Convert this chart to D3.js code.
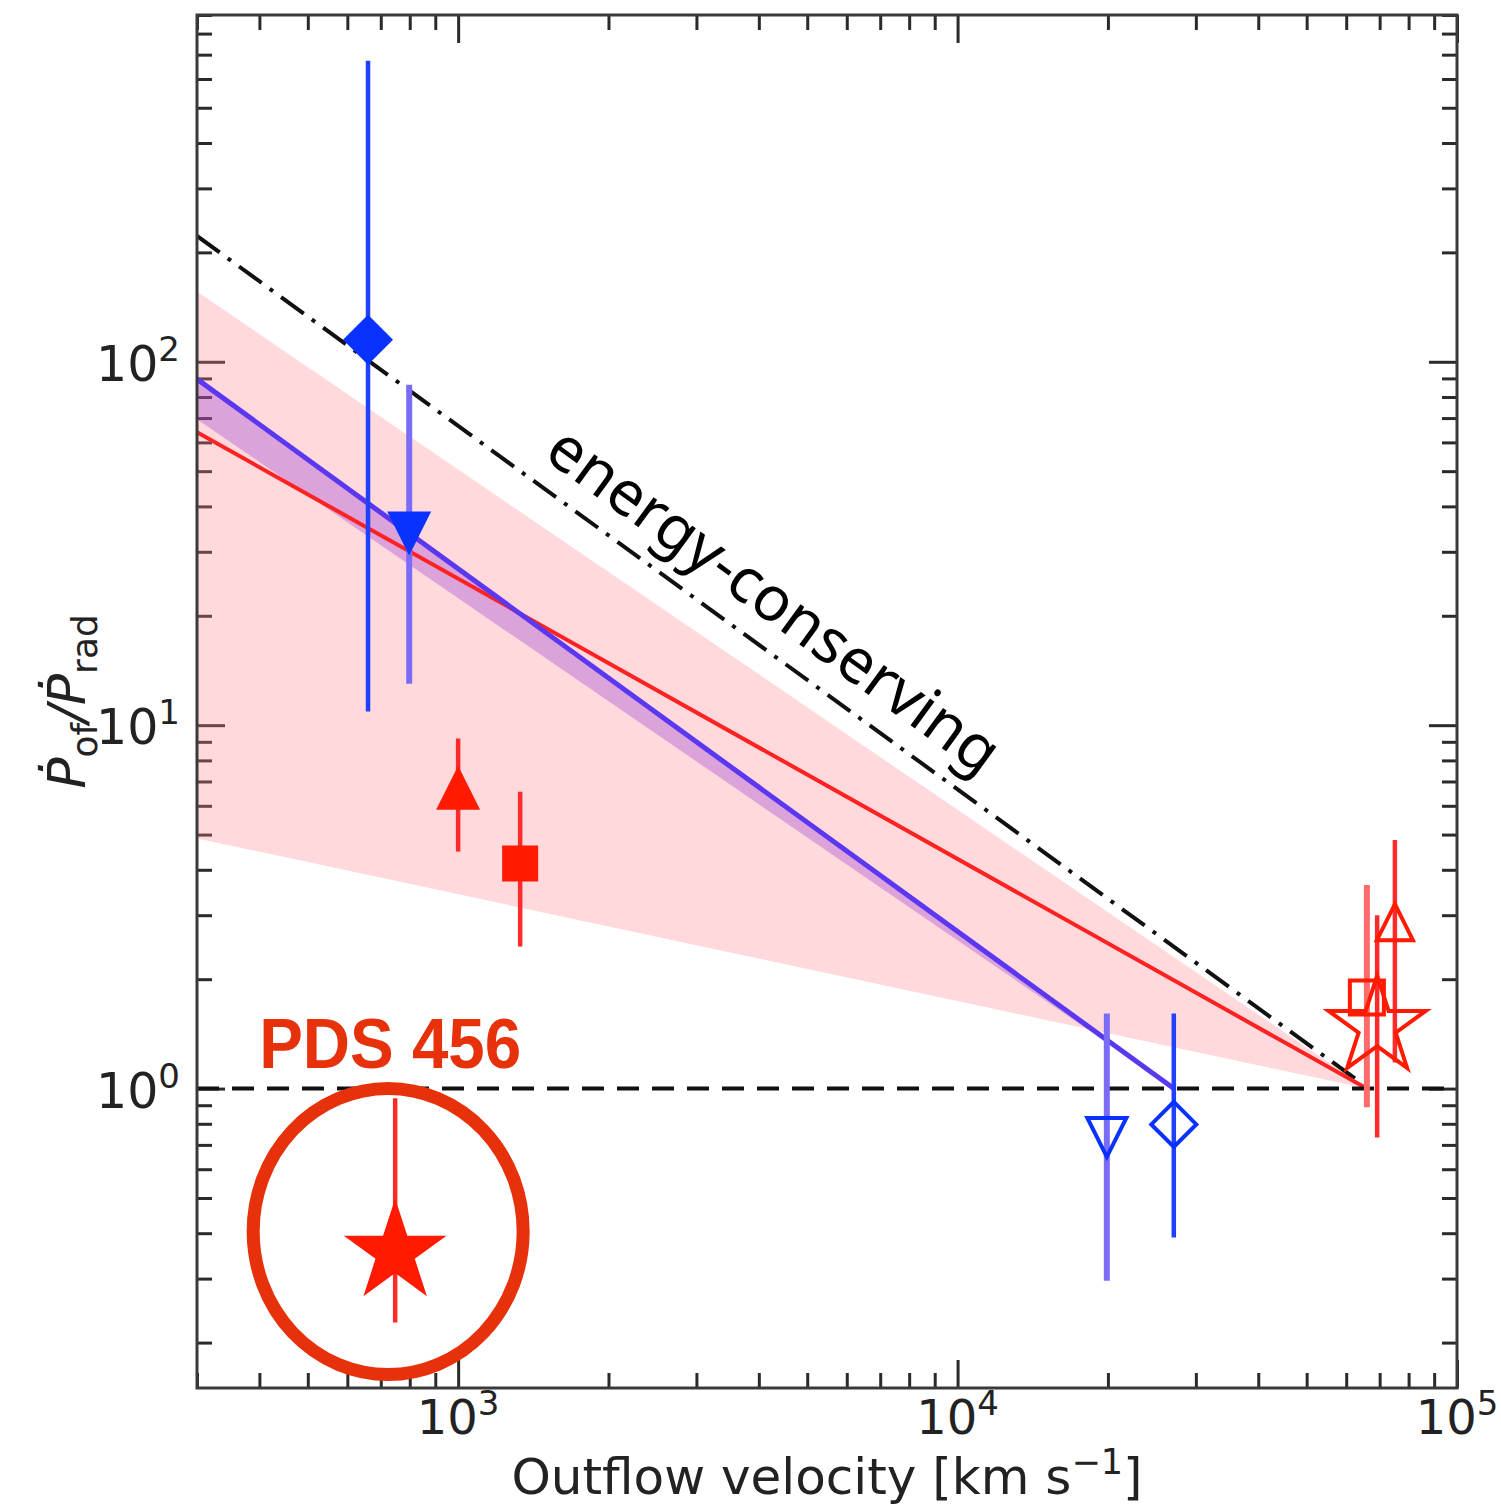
<!DOCTYPE html>
<html>
<head>
<meta charset="utf-8">
<script src="https://cdn.jsdelivr.net/npm/d3@7"></script>
<style>
  body { margin: 0; background: #fff; }
  svg { display: block; }
</style>
</head>
<body>
<svg id="chart" width="1501" height="1506"></svg>
<script>
// ---- values ----
// outflow velocity [km/s], Pdot_of/Pdot_rad and its error range
const velocity = [660, 798, 1000, 1331, 748, 19900, 27100, 66000, 69200, 75100];
const pRatio   = [115, 33.7, 6.73, 4.16, 0.354, 0.734, 0.797, 1.78, 1.48, 2.87];
const errLow   = [10.9, 13.0, 4.49, 2.46, 0.227, 0.296, 0.389, 0.888, 0.734, 1.18];
const errHigh  = [673, 86.5, 9.19, 6.56, 0.94, 1.61, 1.61, 3.63, 3.0, 4.83];
const shape    = ["diamond", "tri-down", "tri-up", "square", "star", "tri-down", "diamond", "square", "star", "tri-up"];
const filled   = [true, true, true, true, true, false, false, false, false, false];
const group    = ["blue", "blue", "red", "red", "red", "blue", "blue", "red", "red", "red"];

// relations (end points, v vs ratio)
const energyV  = [300, 63000], energyP = [222, 1.057];
const redFitV  = [300, 66000], redFitP = [64, 1.0];
const redBandHi = [156, 1.0], redBandLo = [4.88, 1.0];
const blueFitV = [300, 27100], blueFitP = [89.6, 1.0];
const blueBandLo = [69.5, 1.0];

const xMajor = [1e3, 1e4, 1e5];
const yMajor = [1, 10, 100];
const highlight = 4; // PDS 456

// ---- styles ----
const markerR = [25, 22, 22, 18, 54, 19.5, 22.5, 17, 51, 18];
const barLight = [false, true, false, false, false, true, false, true, false, false];
const col = {
  blue: "#0a32ff", blueBar: "#1f40ff", blueLight: "#7a6cf8",
  red: "#ff1a00", redBar: "#ff2b2b", redLight: "#ff6b6b",
  note: "#e6310a", blueLine: "#5b38f0", redLine: "#ff2222"
};

const svg = d3.select("#chart");
const pLeft = 197, pRight = 1457, pTop = 15, pBottom = 1388;
const x = d3.scaleLog().domain([300, 1e5]).range([pLeft, pRight]);
const y = d3.scaleLog().domain([0.15, 900]).range([pBottom, pTop]);

svg.append("defs").append("clipPath").attr("id", "plot")
  .append("rect").attr("x", pLeft).attr("y", pTop)
  .attr("width", pRight - pLeft).attr("height", pBottom - pTop);

// ---- ticks (inward, all four sides) ----
const xMinor = [], yMinor = [];
[100, 1000, 10000].forEach(d => { for (let k = 2; k <= 9; k++) if (d * k >= 300) xMinor.push(d * k); });
[0.1, 1, 10, 100].forEach(d => { for (let k = 2; k <= 9; k++) if (d * k >= 0.15 && d * k <= 900) yMinor.push(d * k); });

function tickAxis(gen, tx, ty, vals, len) {
  const g = svg.append("g").attr("transform", `translate(${tx},${ty})`)
    .call(gen.tickValues(vals).tickSize(len).tickFormat(""));
  g.select(".domain").remove();
  g.selectAll("line").attr("stroke", "#2a2a2a").attr("stroke-width", 3);
}
tickAxis(d3.axisBottom(x), 0, pBottom, xMinor, -15);
tickAxis(d3.axisBottom(x), 0, pBottom, xMajor, -28);
tickAxis(d3.axisTop(x), 0, pTop, xMinor, -15);
tickAxis(d3.axisTop(x), 0, pTop, xMajor, -28);
tickAxis(d3.axisLeft(y), pLeft, 0, yMinor, -15);
tickAxis(d3.axisLeft(y), pLeft, 0, yMajor, -28);
tickAxis(d3.axisRight(y), pRight, 0, yMinor, -15);
tickAxis(d3.axisRight(y), pRight, 0, yMajor, -28);

// ---- bands and fit lines ----
const plot = svg.append("g").attr("clip-path", "url(#plot)");

const redBand = redFitV.map((v, i) => ({ v, hi: redBandHi[i], lo: redBandLo[i] }));
plot.append("path").datum(redBand)
  .attr("d", d3.area().x(d => x(d.v)).y0(d => y(d.lo)).y1(d => y(d.hi)))
  .attr("fill", "rgb(255,128,138)").attr("fill-opacity", 0.3);

const blueBand = blueFitV.map((v, i) => ({ v, hi: blueFitP[i], lo: blueBandLo[i] }));
plot.append("path").datum(blueBand)
  .attr("d", d3.area().x(d => x(d.v)).y0(d => y(d.lo)).y1(d => y(d.hi)))
  .attr("fill", "rgb(140,40,220)").attr("fill-opacity", 0.3);

const line = d3.line().x(d => x(d[0])).y(d => y(d[1]));

plot.append("path").datum(d3.zip(energyV, energyP)).attr("d", line)
  .attr("fill", "none").attr("stroke", "#111").attr("stroke-width", 4)
  .attr("stroke-dasharray", "28,10,4,10");

plot.append("path").datum(d3.zip(redFitV, redFitP)).attr("d", line)
  .attr("fill", "none").attr("stroke", col.redLine).attr("stroke-width", 4);

plot.append("path").datum(d3.zip(blueFitV, blueFitP)).attr("d", line)
  .attr("fill", "none").attr("stroke", col.blueLine).attr("stroke-width", 5);

// ratio = 1
plot.append("line")
  .attr("x1", pLeft).attr("x2", pRight).attr("y1", y(1)).attr("y2", y(1))
  .attr("stroke", "#111").attr("stroke-width", 4).attr("stroke-dasharray", "22,13");

// ---- error bars and markers ----
const pts = velocity.map((v, i) => ({
  i, v, p: pRatio[i], lo: errLow[i], hi: errHigh[i],
  shape: shape[i], filled: filled[i], group: group[i]
}));

function barColor(d) {
  if (d.group === "blue") return barLight[d.i] ? col.blueLight : col.blueBar;
  return barLight[d.i] ? col.redLight : col.redBar;
}

svg.append("g").selectAll("line").data(pts).join("line")
  .attr("x1", d => x(d.v)).attr("x2", d => x(d.v))
  .attr("y1", d => y(d.lo)).attr("y2", d => y(d.hi))
  .attr("stroke", barColor)
  .attr("stroke-width", d => barLight[d.i] ? 6 : 4.5);

// matplotlib-like marker outlines
const mpl = {
  "diamond": { draw(c, s) { const r = Math.sqrt(s) / 2; c.moveTo(0, -r); c.lineTo(r, 0); c.lineTo(0, r); c.lineTo(-r, 0); c.closePath(); } },
  "tri-up": { draw(c, s) { const r = Math.sqrt(s) / 2; c.moveTo(0, -r); c.lineTo(r, r); c.lineTo(-r, r); c.closePath(); } },
  "tri-down": { draw(c, s) { const r = Math.sqrt(s) / 2; c.moveTo(0, r); c.lineTo(r, -r); c.lineTo(-r, -r); c.closePath(); } },
  "square": { draw(c, s) { const r = Math.sqrt(s) / 2; c.rect(-r, -r, 2 * r, 2 * r); } },
  "star": d3.symbolStar
};
function symSize(d) {
  const r = markerR[d.i];
  return d.shape === "star" ? r * r / 0.8908130915292852 : 4 * r * r;
}

svg.append("g").selectAll("path").data(pts).join("path")
  .attr("transform", d => `translate(${x(d.v)},${y(d.p)})`)
  .attr("d", d => d3.symbol().type(mpl[d.shape]).size(symSize(d))())
  .attr("fill", d => d.filled ? col[d.group] : "none")
  .attr("stroke", d => d.filled ? "none" : col[d.group])
  .attr("stroke-width", d => d.filled ? 0 : 4);

// ---- frame ----
svg.append("rect").attr("x", pLeft).attr("y", pTop)
  .attr("width", pRight - pLeft).attr("height", pBottom - pTop)
  .attr("fill", "none").attr("stroke", "#3a3a3a").attr("stroke-width", 3);

// ---- tick labels ----
const font = "'DejaVu Sans', sans-serif";
svg.append("g").selectAll("text").data(xMajor).join("text")
  .attr("x", d => x(d)).attr("y", 1434)
  .attr("text-anchor", "middle").attr("font-family", font).attr("font-size", 48).attr("fill", "#222")
  .each(function (d) {
    const t = d3.select(this);
    t.append("tspan").text("10");
    t.append("tspan").attr("dy", -19).attr("font-size", 34).text(Math.round(Math.log10(d)));
  });

svg.append("g").selectAll("text").data(yMajor).join("text")
  .attr("x", 180).attr("y", d => y(d) + 19)
  .attr("text-anchor", "end").attr("font-family", font).attr("font-size", 49).attr("fill", "#222")
  .each(function (d) {
    const t = d3.select(this);
    t.append("tspan").text("10");
    t.append("tspan").attr("dy", -20).attr("font-size", 34).text(Math.round(Math.log10(d)));
  });

// ---- axis titles ----
const xl = svg.append("text")
  .attr("x", (pLeft + pRight) / 2).attr("y", 1494)
  .attr("text-anchor", "middle").attr("font-family", font).attr("font-size", 50).attr("fill", "#222");
xl.append("tspan").text("Outflow velocity [km s");
xl.append("tspan").attr("dy", -20).attr("font-size", 35).text("\u22121");
xl.append("tspan").attr("dy", 20).text("]");

const yl = svg.append("text")
  .attr("transform", `translate(85,${(pTop + pBottom) / 2}) rotate(-90)`)
  .attr("text-anchor", "middle").attr("font-family", font).attr("font-size", 52).attr("fill", "#222");
yl.append("tspan").attr("font-style", "italic").text("\u1E56");
yl.append("tspan").attr("dy", 12).attr("font-size", 36).text("of");
yl.append("tspan").attr("dy", -12).attr("font-style", "italic").text("/\u1E56");
yl.append("tspan").attr("dy", 12).attr("font-size", 36).text("rad");

// ---- annotations ----
const ang = Math.atan2(y(energyP[1]) - y(energyP[0]), x(energyV[1]) - x(energyV[0])) * 180 / Math.PI;
const labV = 1380, labP = energyP[0] * energyV[0] / labV;
svg.append("text")
  .attr("transform", `translate(${x(labV)},${y(labP)}) rotate(${ang})`)
  .attr("y", -24)
  .attr("font-family", "'Noto Sans', sans-serif").attr("font-size", 62).attr("fill", "#000")
  .text("energy-conserving");

const hp = pts[highlight];
svg.append("ellipse")
  .attr("cx", x(hp.v) - 7).attr("cy", y(hp.p) - 21)
  .attr("rx", 135).attr("ry", 143)
  .attr("fill", "none").attr("stroke", col.note).attr("stroke-width", 13);

svg.append("text")
  .attr("x", x(hp.v) - 5).attr("y", 1068)
  .attr("text-anchor", "middle")
  .attr("font-family", "'Liberation Sans', Arial, sans-serif").attr("font-weight", "bold")
  .attr("font-size", 70).attr("fill", col.note)
  .attr("textLength", 262).attr("lengthAdjust", "spacingAndGlyphs")
  .text("PDS 456");
</script>
</body>
</html>
